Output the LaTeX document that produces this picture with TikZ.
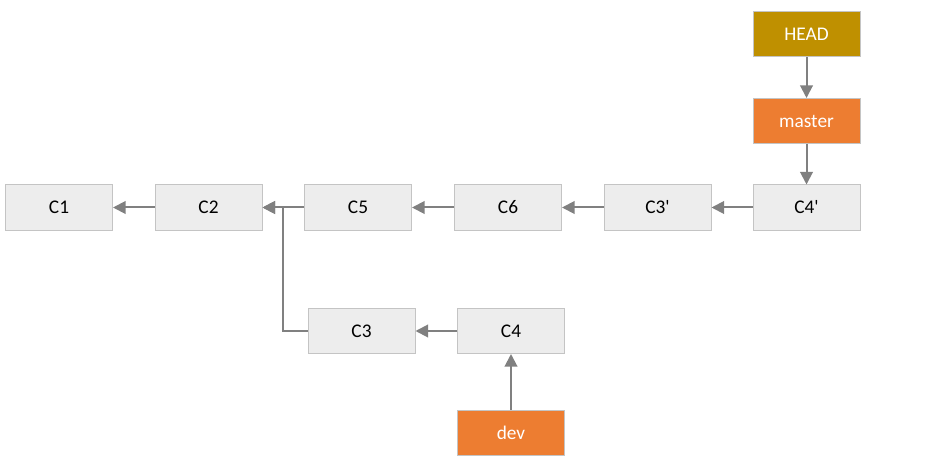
\documentclass[tikz,border=0pt]{standalone}
\usepackage{fontspec}
\setmainfont{Carlito}
\usetikzlibrary{arrows.meta}
\definecolor{boxfill}{HTML}{EDEDED}
\definecolor{boxline}{HTML}{C4C4C4}
\definecolor{headfill}{HTML}{BF9000}
\definecolor{reffill}{HTML}{ED7D31}
\definecolor{arrowgray}{HTML}{808080}
\tikzset{
  commit/.style={draw=boxline, fill=boxfill, line width=0.75pt, minimum width=80.25pt, minimum height=33.75pt, inner sep=0pt, font=\fontsize{14.5}{16}\selectfont, text=black},
  headbox/.style={commit, fill=headfill, text=white},
  refbox/.style={commit, fill=reffill, text=white},
  link/.style={draw=arrowgray, line width=1.5pt, -{Triangle[length=9.5pt,width=9.5pt]}},
}
\begin{document}
\begin{tikzpicture}[x=0.75pt,y=-0.75pt]
\useasboundingbox (0,0) rectangle (928,474);
\node[commit] (c1) at (59,207.5) {C1};
\node[commit] (c2) at (208.5,207.5) {C2};
\node[commit] (c5) at (358,207.5) {C5};
\node[commit] (c6) at (508,207.5) {C6};
\node[commit] (c3p) at (657.5,207.5) {C3\textquotesingle};
\node[commit] (c4p) at (806.5,207.5) {C4\textquotesingle};
\node[headbox] (head) at (806.5,34.5) {HEAD};
\node[refbox] (master) at (806.5,121) {master};
\node[commit] (c3) at (361.5,331) {C3};
\node[commit] (c4) at (511,331) {C4};
\node[refbox] (dev) at (511,432.5) {dev};
\coordinate (bend) at (283,331);
\draw[link] (c2) -- (c1);
\draw[link] (c5) -- (c2);
\draw[link] (c6) -- (c5);
\draw[link] (c3p) -- (c6);
\draw[link] (c4p) -- (c3p);
\draw[link] (head) -- (master);
\draw[link] (master) -- (c4p);
\draw[link] (c4) -- (c3);
\draw[link] (dev) -- (c4);
\draw[link] (c3.west) -- (bend) -- (bend |- c2.east) -- (c2.east);
\end{tikzpicture}
\end{document}
